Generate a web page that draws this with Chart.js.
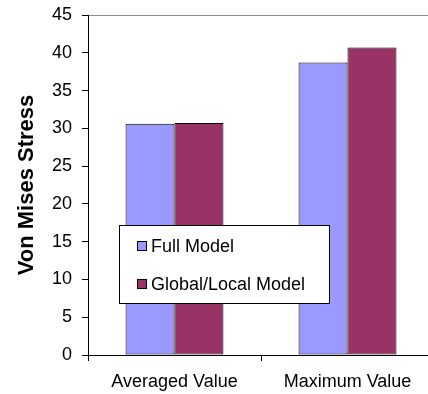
<!DOCTYPE html>
<html>
<head>
<meta charset="utf-8">
<script src="https://cdn.jsdelivr.net/npm/chart.js@4.4.1/dist/chart.umd.min.js"></script>
<style>
  html, body { margin: 0; padding: 0; background: #fff; overflow: hidden; }
  #wrap { width: 428px; height: 394px; overflow: hidden; }
  canvas { display: block; }
</style>
</head>
<body>
<div id="wrap"><canvas id="c" width="436" height="394"></canvas></div>
<script>
// Von Mises stress: averaged and maximum values for the two models
const categories = ['Averaged Value', 'Maximum Value'];
const fullModel = [30.6, 38.7];
const globalLocalModel = [30.7, 40.7];
const seriesNames = ['Full Model', 'Global/Local Model'];
const yTicks = [0, 5, 10, 15, 20, 25, 30, 35, 40, 45];

const FONT = 'Liberation Sans, Arial, sans-serif';

// Boxed legend drawn inside the plot area
const boxLegend = {
  id: 'boxLegend',
  afterDraw(chart) {
    const ctx = chart.ctx;
    const x = 119.5, y = 225.5, w = 210, h = 78;
    ctx.save();
    ctx.fillStyle = '#fff';
    ctx.fillRect(x, y, w, h);
    ctx.strokeStyle = '#000';
    ctx.lineWidth = 1;
    ctx.strokeRect(x, y, w, h);
    ctx.font = '18px ' + FONT;
    ctx.textBaseline = 'middle';
    chart.data.datasets.forEach((ds, i) => {
      const cy = 246 + i * 38;
      ctx.fillStyle = ds.backgroundColor;
      ctx.fillRect(137.5, cy - 4.5, 9, 9);
      ctx.strokeStyle = '#000';
      ctx.strokeRect(137.5, cy - 4.5, 9, 9);
      ctx.fillStyle = '#000';
      ctx.fillText(ds.label, 151, cy + 1);
    });
    ctx.restore();
  }
};

new Chart(document.getElementById('c'), {
  type: 'bar',
  data: {
    labels: categories,
    datasets: [
      { label: seriesNames[0], data: fullModel, backgroundColor: '#9999FF', borderColor: '#000', borderWidth: 1, borderSkipped: false },
      { label: seriesNames[1], data: globalLocalModel, backgroundColor: '#993366', borderColor: '#000', borderWidth: 1, borderSkipped: false }
    ]
  },
  options: {
    responsive: false,
    animation: false,
    events: [],
    layout: { padding: { left: 0, right: 2, top: 15, bottom: 0 } },
    datasets: { bar: { categoryPercentage: 0.566, barPercentage: 1 } },
    plugins: {
      legend: { display: false },
      tooltip: { enabled: false }
    },
    scales: {
      x: {
        offset: true,
        grid: { offset: true, color: 'rgba(0,0,0,0)', tickColor: '#000', tickLength: 6, drawOnChartArea: false },
        border: { color: '#000', width: 1 },
        ticks: { color: '#000', font: { family: FONT, size: 18 }, padding: 10, maxRotation: 0 },
        afterFit(s) { s.height = 39; s.paddingLeft = 0; s.paddingRight = 0; }
      },
      y: {
        min: 0,
        max: 45,
        afterBuildTicks(s) { s.ticks = yTicks.map(v => ({ value: v })); },
        grid: {
          color: c => (c.tick && c.tick.value === 45) ? '#8c8c8c' : 'rgba(0,0,0,0)',
          tickColor: '#000',
          tickLength: 6
        },
        border: { color: '#000', width: 1 },
        ticks: { color: '#000', font: { family: FONT, size: 18 }, padding: 10 },
        title: {
          display: true,
          text: 'Von Mises Stress',
          color: '#000',
          font: { family: FONT, size: 22, weight: 'bold' },
          padding: { top: 14, bottom: 0 }
        },
        afterFit(s) { s.width = 88; s.paddingTop = 0; s.paddingBottom = 0; }
      }
    }
  },
  plugins: [boxLegend]
});
</script>
</body>
</html>
